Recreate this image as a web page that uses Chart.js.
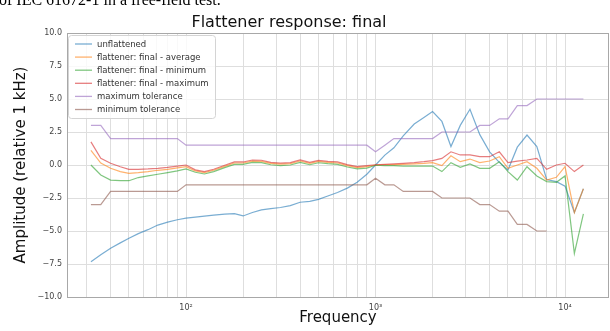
<!DOCTYPE html>
<html>
<head>
<meta charset="utf-8">
<script src="https://cdn.jsdelivr.net/npm/chart.js@4.4.0/dist/chart.umd.min.js"></script>
<style>
  body { margin: 0; background: #fff; overflow: hidden; }
  #wrap { position: relative; width: 610px; height: 331px; overflow: hidden; }
  canvas { position: absolute; left: 0; top: 0; }
  #caption { position: absolute; left: -1px; top: -8px; font: 16px "Liberation Serif", serif; line-height: 16px; color: #000; white-space: nowrap; }
</style>
</head>
<body>
<div id="wrap">
  <canvas id="myChart" width="610" height="331"></canvas>
  <div id="caption">of IEC 61672-1 in a free-field test.</div>
</div>
<script>
// 1/6 octave band centres (Hz)
const freqs = [31.5, 35.5, 40, 45, 50, 56, 63, 71, 80, 90,
  100, 112, 125, 140, 160, 180, 200, 224, 250, 280, 315, 355, 400, 450, 500, 560, 630, 710, 800, 900,
  1000, 1120, 1250, 1400, 1600, 1800, 2000, 2240, 2500, 2800, 3150, 3550, 4000, 4500, 5000, 5600, 6300, 7100, 8000, 9000,
  10000, 11200, 12500];

const unflattened = [-7.33, -6.8, -6.3, -5.9, -5.55, -5.2, -4.9, -4.55, -4.33, -4.15,
  -4.03, -3.95, -3.88, -3.8, -3.72, -3.68, -3.86, -3.6, -3.4, -3.3, -3.22, -3.08, -2.82, -2.75, -2.6, -2.35, -2.08, -1.75, -1.3, -0.7,
  0, 0.75, 1.3, 2.2, 3.1, 3.6, 4.05, 3.3, 1.4, 3.0, 4.22, 2.3, 1.0, 0.2, -0.38, 1.35, 2.27, 1.4, -1.1, -1.26,
  -1.6, -3.6, -1.8];

const finalAverage = [1.1, 0.15, -0.25, -0.5, -0.63, -0.58, -0.5, -0.4, -0.33, -0.22,
  -0.13, -0.45, -0.58, -0.4, -0.1, 0.15, 0.15, 0.3, 0.28, 0.12, 0.06, 0.1, 0.3, 0.12, 0.27, 0.2, 0.15, -0.05, -0.2, -0.13,
  0, 0.02, 0.03, 0.05, 0.08, 0.12, 0.18, -0.05, 0.7, 0.25, 0.45, 0.18, 0.3, 0.63, -0.25, 0.0, 0.25, -0.25, -1.14, -0.93,
  -0.13, -3.6, -1.8];

const finalMinimum = [0.0, -0.76, -1.14, -1.19, -1.19, -0.95, -0.83, -0.7, -0.58, -0.45,
  -0.3, -0.55, -0.68, -0.5, -0.2, 0.05, 0.05, 0.2, 0.18, 0.02, -0.04, 0.0, 0.2, 0.02, 0.17, 0.1, 0.05, -0.15, -0.3, -0.23,
  -0.02, -0.05, -0.05, -0.08, -0.08, -0.08, -0.08, -0.5, 0.18, -0.18, 0.08, -0.25, -0.25, 0.25, -0.5, -1.14, -0.13, -0.83, -1.26, -1.31,
  -0.83, -6.7, -3.7];

const finalMaximum = [1.75, 0.5, 0.13, -0.13, -0.33, -0.33, -0.3, -0.25, -0.18, -0.08,
  0.0, -0.37, -0.5, -0.32, -0.02, 0.23, 0.23, 0.38, 0.36, 0.2, 0.14, 0.18, 0.38, 0.2, 0.35, 0.28, 0.23, 0.03, -0.12, -0.05,
  0.02, 0.05, 0.08, 0.12, 0.18, 0.25, 0.33, 0.5, 1.0, 0.76, 0.76, 0.63, 0.63, 1.0, 0.18, 0.3, 0.38, 0.5, -0.33, 0.0,
  0.13, -0.5, 0.0];

const maxTolerance = [3, 3, 2, 2, 2, 2, 2, 2, 2, 2,
  1.5, 1.5, 1.5, 1.5, 1.5, 1.5, 1.5, 1.5, 1.5, 1.5, 1.5, 1.5, 1.5, 1.5, 1.5, 1.5, 1.5, 1.5, 1.5, 1.5,
  1, 1.5, 2, 2, 2, 2, 2, 2.5, 2.5, 2.5, 2.5, 3, 3, 3.5, 3.5, 4.5, 4.5, 5, 5, 5,
  5, 5, 5];

const minTolerance = [-3, -3, -2, -2, -2, -2, -2, -2, -2, -2,
  -1.5, -1.5, -1.5, -1.5, -1.5, -1.5, -1.5, -1.5, -1.5, -1.5, -1.5, -1.5, -1.5, -1.5, -1.5, -1.5, -1.5, -1.5, -1.5, -1.5,
  -1, -1.5, -1.5, -2, -2, -2, -2, -2.5, -2.5, -2.5, -2.5, -3, -3, -3.5, -3.5, -4.5, -4.5, -5, -5, null,
  null, null, null];

const seriesNames = ["unflattened", "flattener: final - average", "flattener: final - minimum",
  "flattener: final - maximum", "maximum tolerance", "minimum tolerance"];
const seriesValues = [unflattened, finalAverage, finalMinimum, finalMaximum, maxTolerance, minTolerance];
const seriesColors = ["rgba(31,119,180,0.6)", "rgba(255,127,14,0.6)", "rgba(44,160,44,0.6)",
  "rgba(214,39,40,0.6)", "rgba(148,103,189,0.6)", "rgba(140,86,75,0.6)"];

// grid lines on the log axis, labels only on decades
const gridFreqs = [30, 40, 50, 60, 70, 80, 90, 100, 200, 300, 400, 500, 600, 700, 800, 900,
  1000, 2000, 3000, 4000, 5000, 6000, 7000, 8000, 9000, 10000];
const decadeLabels = { 100: "10\u00b2", 1000: "10\u00b3", 10000: "10\u2074" };

const font = '"DejaVu Sans", sans-serif';

const extras = {
  id: "extras",
  afterDraw(chart) {
    const ctx = chart.ctx;
    const a = chart.chartArea;
    ctx.save();
    // frame
    ctx.strokeStyle = "#a8a8a8";
    ctx.lineWidth = 1;
    ctx.strokeRect(Math.round(a.left) + 0.5, Math.round(a.top) + 0.5, Math.round(a.right - a.left) - 1, Math.round(a.bottom - a.top));
    // title
    ctx.fillStyle = "#111";
    ctx.font = "16px " + font;
    ctx.textAlign = "center";
    ctx.textBaseline = "alphabetic";
    ctx.fillText("Flattener response: final", 289, 27);
    // legend
    const bx = 68.5, by = 35.5, bw = 147, bh = 83;
    ctx.fillStyle = "rgba(255,255,255,0.8)";
    ctx.strokeStyle = "#d4d4d4";
    ctx.beginPath();
    ctx.roundRect(bx, by, bw, bh, 3);
    ctx.fill();
    ctx.stroke();
    ctx.font = "8.5px " + font;
    ctx.textAlign = "left";
    ctx.textBaseline = "middle";
    chart.data.datasets.forEach((ds, i) => {
      const y = 44 + i * 13.1;
      ctx.strokeStyle = ds.borderColor;
      ctx.lineWidth = 1.3;
      ctx.beginPath();
      ctx.moveTo(75, y);
      ctx.lineTo(92, y);
      ctx.stroke();
      ctx.fillStyle = "#333";
      ctx.fillText(ds.label, 97, y + 0.5);
    });
    ctx.restore();
  }
};

const ctx = document.getElementById("myChart").getContext("2d");
const myChart = new Chart(ctx, {
  type: "line",
  data: {
    datasets: seriesNames.map((name, i) => ({
      label: name,
      data: freqs.map((f, j) => ({ x: f, y: seriesValues[i][j] })),
      borderColor: seriesColors[i],
      backgroundColor: seriesColors[i],
      borderWidth: 1.2,
      pointRadius: 0,
      tension: 0,
      spanGaps: false,
      order: seriesNames.length - i
    }))
  },
  plugins: [extras],
  options: {
    responsive: false,
    animation: false,
    layout: { padding: { top: 33, right: 1, left: 0, bottom: 0 } },
    plugins: {
      legend: { display: false },
      title: { display: false },
      tooltip: { enabled: false }
    },
    scales: {
      x: {
        type: "logarithmic",
        min: 23.55,
        max: 17060,
        afterBuildTicks: (scale) => {
          scale.ticks = gridFreqs.map((v) => ({ value: v }));
        },
        afterFit: (scale) => { scale.height = 34; },
        grid: { color: "#dedede", lineWidth: 1, drawTicks: false },
        border: { display: false },
        ticks: {
          autoSkip: false,
          maxRotation: 0,
          padding: 6,
          color: "#444",
          font: { family: font, size: 8 },
          callback: (v) => decadeLabels[v] || ""
        },
        title: {
          display: true,
          text: "Frequency",
          color: "#111",
          font: { family: font, size: 15 },
          padding: { top: 0, bottom: 4 }
        }
      },
      y: {
        min: -10,
        max: 10,
        afterFit: (scale) => { scale.width = 67; },
        grid: { color: "#dedede", lineWidth: 1, drawTicks: false },
        border: { display: false },
        ticks: {
          stepSize: 2.5,
          padding: 5,
          color: "#444",
          font: { family: font, size: 8 },
          callback: (v) => (v < 0 ? "\u2212" : "") + Math.abs(v).toFixed(1)
        },
        title: {
          display: true,
          text: "Amplitude (relative 1 kHz)",
          color: "#111",
          font: { family: font, size: 15 },
          padding: { top: 12, bottom: 0 }
        }
      }
    }
  }
});
</script>
</body>
</html>
